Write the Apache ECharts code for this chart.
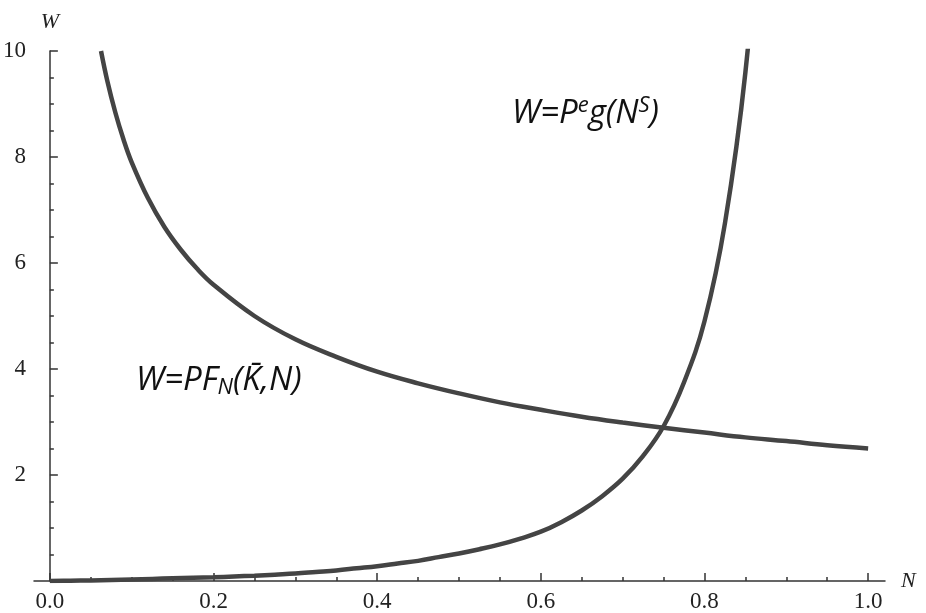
<!DOCTYPE html>
<html>
<head>
<meta charset="utf-8">
<script src="https://cdn.jsdelivr.net/npm/echarts@6/dist/echarts.min.js"></script>
<style>
html,body{margin:0;padding:0;background:#fff;}
#chart{width:926px;height:613px;}
</style>
</head>
<body>
<div id="chart"></div>
<script>
// ---- data ----
var xMajorTicks = [0.0, 0.2, 0.4, 0.6, 0.8, 1.0];
var xMinorTicks = [0.05,0.1,0.15,0.25,0.3,0.35,0.45,0.5,0.55,0.65,0.7,0.75,0.85,0.9,0.95];
var yTickLabels = [2, 4, 6, 8, 10];

// W = P F_N(K, N)  (labour demand, decreasing)
var demandN = [0.0625,0.07,0.08,0.09,0.1,0.12,0.14,0.16,0.18,0.2,0.25,0.3,0.35,0.4,0.45,0.5,0.55,0.6,0.65,0.7,0.75,0.8,0.85,0.9,0.95,1.0];
var demandW = [10.0,9.45,8.84,8.33,7.9,7.22,6.68,6.25,5.89,5.59,5.0,4.56,4.23,3.95,3.73,3.54,3.37,3.23,3.1,2.99,2.89,2.8,2.71,2.64,2.56,2.5];

// W = P^e g(N^S)  (labour supply, increasing)
var supplyN = [0,0.025,0.05,0.075,0.1,0.125,0.15,0.175,0.2,0.225,0.25,0.275,0.3,0.325,0.35,0.375,0.4,0.425,0.45,0.475,0.5,0.525,0.55,0.575,0.6,0.625,0.65,0.675,0.7,0.725,0.75,0.775,0.8,0.825,0.85,0.875];
var supplyW = [0,0.005,0.01,0.02,0.03,0.04,0.05,0.06,0.07,0.085,0.1,0.12,0.14,0.17,0.2,0.24,0.28,0.33,0.38,0.45,0.52,0.6,0.69,0.8,0.93,1.11,1.33,1.6,1.93,2.36,2.92,3.75,4.9,6.75,9.6,14];

function pairs(xs, ys){ return xs.map(function(x,i){ return [x, ys[i]]; }); }

var chart = echarts.init(document.getElementById('chart'));
var axisColor = '#333';
var labelFont = {fontFamily:'Liberation Serif', fontSize:23, color:'#222'};
var annFont = 'Open Sans';

chart.setOption({
  backgroundColor:'#fff',
  animation:false,
  grid:{left:26, right:41, top:51, bottom:32, containLabel:false},
  xAxis:[{
    type:'value', min:-0.0194, max:1.0206,
    name:'N', nameLocation:'end', nameGap:16,
    nameTextStyle:{fontFamily:'Liberation Serif', fontStyle:'italic', fontSize:22, color:'#222', verticalAlign:'middle'},
    axisLine:{show:true, onZero:false, lineStyle:{color:axisColor, width:1.5}},
    axisTick:{show:true, inside:true, length:8, customValues:xMajorTicks, lineStyle:{color:axisColor, width:1.5}},
    axisLabel:{show:true, customValues:xMajorTicks, margin:9, formatter:function(v){return v.toFixed(1);}, fontFamily:labelFont.fontFamily, fontSize:labelFont.fontSize, color:labelFont.color},
    splitLine:{show:false}
  },{
    type:'value', min:-0.0194, max:1.0206, position:'bottom',
    axisLine:{show:false, onZero:false},
    axisTick:{show:true, inside:true, length:4, customValues:xMinorTicks, lineStyle:{color:axisColor, width:1.5}},
    axisLabel:{show:false},
    splitLine:{show:false}
  }],
  yAxis:{
    type:'value', min:0, max:10, interval:2,
    name:'W', nameLocation:'end', nameGap:18,
    nameTextStyle:{fontFamily:'Liberation Serif', fontStyle:'italic', fontSize:22, color:'#222', align:'center'},
    axisLine:{show:true, onZero:true, onZeroAxisIndex:0, lineStyle:{color:axisColor, width:1.5}},
    axisTick:{show:true, inside:true, length:8, lineStyle:{color:axisColor, width:1.5}},
    minorTick:{show:true, splitNumber:4, length:4, lineStyle:{color:axisColor, width:1.5}},
    axisLabel:{show:true, showMinLabel:false, margin:8, fontFamily:labelFont.fontFamily, fontSize:labelFont.fontSize, color:labelFont.color,
      formatter:function(v){ return yTickLabels.indexOf(v) >= 0 ? String(v) : ''; }},
    splitLine:{show:false}
  },
  series:[{
    type:'line', xAxisIndex:0, data:pairs(demandN, demandW), showSymbol:false, smooth:0.4, clip:true,
    lineStyle:{color:'#444', width:4.5}
  },{
    type:'line', xAxisIndex:0, data:pairs(supplyN, supplyW), showSymbol:false, smooth:0.4, clip:true,
    lineStyle:{color:'#444', width:4.5}
  }],
  graphic:[{
    type:'text', left:512, top:95,
    style:{
      text:'{a|W=P}{s|e}{a|g(N}{s|S}{a|)}',
      rich:{
        a:{fontFamily:annFont, fontStyle:'italic', fontSize:33, fill:'#111', lineHeight:40},
        s:{fontFamily:annFont, fontStyle:'italic', fontSize:22, fill:'#111', lineHeight:40, padding:[0,0,16,0]}
      }
    }
  },{
    type:'text', left:136, top:363,
    style:{
      text:'{a|W=PF}{b|N}{a|(K\u0304,N)}',
      rich:{
        a:{fontFamily:annFont, fontStyle:'italic', fontSize:33, fill:'#111', lineHeight:40},
        b:{fontFamily:annFont, fontStyle:'italic', fontSize:22, fill:'#111', lineHeight:40, padding:[14,0,0,0]}
      }
    }
  }]
});
</script>
</body>
</html>
